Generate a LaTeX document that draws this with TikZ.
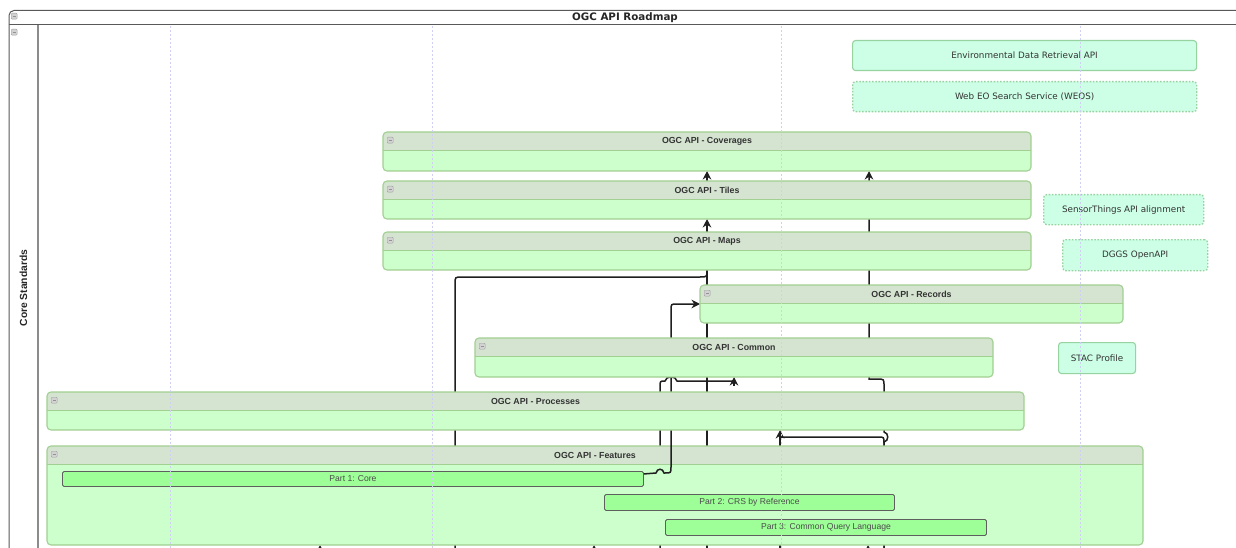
\documentclass[tikz,border=0pt]{standalone}
\usepackage{fontspec}
\setmainfont{Liberation Sans}
\newfontfamily\dvs{DejaVu Sans}
\usetikzlibrary{arrows.meta}
\definecolor{hdrfill}{HTML}{D5E4D1}
\definecolor{bodyfill}{HTML}{CCFFCC}
\definecolor{boxborder}{HTML}{A2CF92}
\definecolor{mintfill}{HTML}{CCFFE6}
\definecolor{mintborder}{HTML}{96D3A0}
\definecolor{partfill}{HTML}{9EFF98}
\definecolor{partborder}{HTML}{5E5E5E}
\definecolor{gridc}{HTML}{CFCFF4}
\definecolor{txt}{HTML}{333333}
\pgfdeclarelayer{bgl}
\pgfdeclarelayer{connl}
\pgfdeclarelayer{connm}
\pgfdeclarelayer{upper}
\pgfdeclarelayer{gridl}
\pgfsetlayers{bgl,connl,main,connm,upper,gridl}
\tikzset{
  conn/.style={line width=1.5pt, draw=black!88},
  witharrow/.style={-{Stealth[length=8.5pt,width=8.5pt]}},
  cbody/.style={fill=bodyfill, rounded corners=4pt, inner sep=0pt, outer sep=0pt},
  cborder/.style={draw=boxborder, line width=1.1pt, rounded corners=4pt},
  hdrline/.style={draw=boxborder, line width=0.9pt},
  ctitle/.style={font=\bfseries\fontsize{8.8}{10}\selectfont, text=txt, inner sep=0pt},
  icon/.style={draw=gray!75, fill=gray!35, rounded corners=1pt, minimum width=6pt, minimum height=6pt, inner sep=0pt},
  mint/.style={fill=mintfill, draw=mintborder, line width=1.1pt, rounded corners=3pt, font=\dvs\fontsize{8.8}{10}\selectfont, text=txt, inner sep=0pt, anchor=north west},
  mintdot/.style={mint, dash pattern=on 1.6pt off 1.6pt, line width=1.3pt},
  part/.style={fill=partfill, draw=partborder, line width=0.9pt, rounded corners=1.5pt, font=\fontsize{8.6}{10}\selectfont, text=black!70, inner sep=0pt, anchor=north west},
  gridln/.style={draw=gridc, dash pattern=on 2pt off 2pt, line width=0.7pt},
  frame/.style={draw=black!65, line width=1pt},
  lanel/.style={draw=black!45, line width=1.6pt},
}
\newcommand{\mkcont}[6]{%
  \node[cbody, anchor=north west, minimum width={(#4-#2)*1pt}, minimum height={(#5-#3)*1pt}] (#1) at (#2,#3) {};
  \begin{scope}
    \clip[rounded corners=4pt] (#1.north west) rectangle (#1.south east);
    \fill[hdrfill] (#1.north west) rectangle ([yshift=-18pt]#1.north east);
  \end{scope}
  \draw[hdrline] ([yshift=-18pt]#1.north west) -- ([yshift=-18pt]#1.north east);
  \draw[cborder] (#1.north west) rectangle (#1.south east);
  \node[ctitle] (#1-t) at ([yshift=-9.5pt]#1.north) {#6};
  \node[icon, anchor=north west] (#1-i) at ([xshift=4pt,yshift=-5pt]#1.north west) {};
  \draw[gray!85, line width=0.6pt] ([xshift=1.5pt]#1-i.west) -- ([xshift=-1.5pt]#1-i.east);
}
\begin{document}
\begin{tikzpicture}[x=1pt,y=-1pt]
\useasboundingbox (0,0) rectangle (1236,548);
% ---------- frame ----------
\begin{pgfonlayer}{bgl}
  \fill[white] (0,0) rectangle (1236,548);
  \draw[frame, rounded corners=5pt] (9,556) -- (9,10.5) -- (1250,10.5);
  \draw[frame] (9,25) -- (1250,25);
  \draw[lanel] (38,25) -- (38,556);
  \node[font=\dvs\bfseries\fontsize{10.3}{12}\selectfont, text=black!85, inner sep=0pt] (ttl) at (625,17.8) {OGC API Roadmap};
  \node[rotate=90, font=\bfseries\fontsize{10.3}{12}\selectfont, text=black!85, inner sep=0pt] (lane) at (23.5,288) {Core Standards};
  \node[icon, anchor=north west] (fi1) at (11,13) {};
  \draw[gray!85, line width=0.6pt] ([xshift=1.5pt]fi1.west) -- ([xshift=-1.5pt]fi1.east);
  \node[icon, anchor=north west] (fi2) at (11,29) {};
  \draw[gray!85, line width=0.6pt] ([xshift=1.5pt]fi2.west) -- ([xshift=-1.5pt]fi2.east);
\end{pgfonlayer}
% ---------- Features (main layer) ----------
\mkcont{feat}{47}{446}{1143}{545}{OGC API - Features}
\node[part, minimum width=581pt, minimum height=15pt] (p1) at (62,471) {Part 1: Core};
\node[part, minimum width=290pt, minimum height=16pt] (p2) at (604,494) {Part 2: CRS by Reference};
\node[part, minimum width=321pt, minimum height=16pt] (p3) at (665,519) {Part 3: Common Query Language};
% ---------- other containers ----------
\begin{pgfonlayer}{upper}
  \mkcont{cov}{383}{132}{1031}{171}{OGC API - Coverages}
  \mkcont{til}{383}{181}{1031}{219}{OGC API - Tiles}
  \mkcont{maps}{383}{232}{1031}{270}{OGC API - Maps}
  \mkcont{rec}{700}{285}{1123}{323}{OGC API - Records}
  \mkcont{com}{475}{338}{993}{377}{OGC API - Common}
  \mkcont{proc}{47}{392}{1024}{430}{OGC API - Processes}
  \node[mint, minimum width=344pt, minimum height=30pt] (edr) at (852,40) {Environmental Data Retrieval API};
  \node[mintdot, minimum width=344pt, minimum height=30pt] (weos) at (852,81) {Web EO Search Service (WEOS)};
  \node[mintdot, minimum width=160pt, minimum height=30pt] (sta) at (1043,194) {SensorThings API alignment};
  \node[mintdot, minimum width=145pt, minimum height=31pt] (dggs) at (1062,239) {DGGS OpenAPI};
  \node[mint, minimum width=77pt, minimum height=31pt] (stac) at (1058,342) {STAC Profile};
\end{pgfonlayer}
% ---------- free ends below the visible area ----------
\coordinate (b320) at (320,556);
\coordinate (b455) at (455,556);
\coordinate (b594) at (594,556);
\coordinate (b660) at (660,556);
\coordinate (b707) at (707,556);
\coordinate (b780) at (780,556);
\coordinate (b868) at (868,556);
\coordinate (b884) at (884,556);
% ---------- connectors behind the boxes ----------
\begin{pgfonlayer}{connl}
  \draw[conn] (b455) -- (455,284) .. controls (455,277) .. (462,277) -- (700,277) .. controls (707,277) .. (maps.south);
  \draw[conn] (b707) -- (maps.south);
  \draw[conn, witharrow] (maps.north) -- (til.south);
  \draw[conn, witharrow] (til.north) -- (cov.south);
  \draw[conn] (b660) -- (660,387) .. controls (660,381) .. (665,381) .. controls (666,375.5) and (676,375.5) .. (677,381) -- (734,381);
  \draw[conn, witharrow] ([yshift=-9pt]com.south) -- (com.south);
  \draw[conn, witharrow] (b884) -- (884,442) .. controls (889,441) and (889,433) .. (884,432) -- (884,386) .. controls (884,379) .. (877,379) -- (869,379) -- (869,171);
  \draw[conn] (b884) -- (884,443) .. controls (884,437) .. (878,437) -- (780,437);
  \draw[conn, witharrow] (b780) -- (b780 |- proc.south);
  \draw[conn, witharrow] (b320) -- (b320 |- feat.south);
  \draw[conn, witharrow] (b594) -- (b594 |- feat.south);
  \draw[conn, witharrow] (b868) -- (b868 |- feat.south);
\end{pgfonlayer}
% ---------- connector from Part 1 (over Features) ----------
\begin{pgfonlayer}{connm}
  \draw[conn, witharrow] ([yshift=5pt]p1.east) -- (656,473) .. controls (657,468) and (663,468) .. (664,473) -- (665,473) .. controls (671,473) .. (671,467) -- (671,310) .. controls (671,304) .. (677,304) -- (rec.west);
\end{pgfonlayer}
% ---------- grid lines ----------
\begin{pgfonlayer}{gridl}
  \draw[gridln] (170,26) -- (170,548);
  \draw[gridln] (432,26) -- (432,548);
  \draw[gridln] (781,26) -- (781,548);
  \draw[gridln] (1080,26) -- (1080,548);
\end{pgfonlayer}
\end{tikzpicture}
\end{document}
